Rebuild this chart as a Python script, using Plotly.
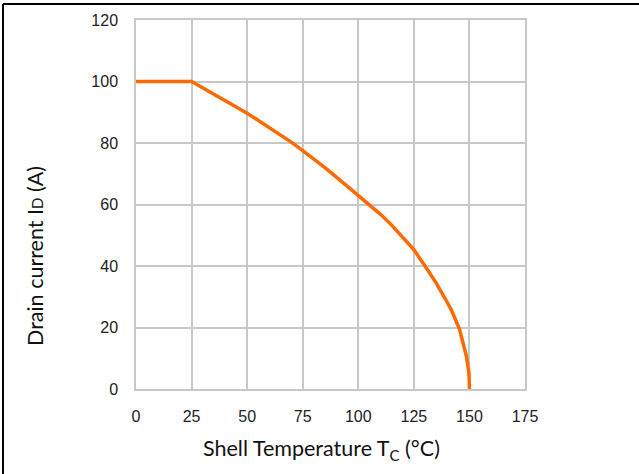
import plotly.graph_objects as go

# Derating curve: drain current vs. shell (case) temperature
temp_c = [0, 25, 50, 60, 70, 75, 85, 95, 100, 105, 110, 115, 120, 125, 130,
          135, 139, 142, 145.5, 147.5, 148.7, 149.8, 150]
drain_a = [100, 100, 89.7, 85, 80.2, 77.5, 72, 66, 63, 60, 56.8, 53.3, 49.5, 45.3, 40,
           34.5, 29.5, 25.5, 19.5, 14.5, 10.5, 5, 0]

x_ticks = [0, 25, 50, 75, 100, 125, 150, 175]
y_ticks = [0, 20, 40, 60, 80, 100, 120]

W, H = 639, 474
L, R, T, B = 136, 114, 20, 85
pw, ph = W - L - R, H - T - B


def px(x):
    return (x - L) / pw


def py(y):
    return (H - B - y) / ph


fig = go.Figure()
fig.add_trace(go.Scatter(
    x=temp_c, y=drain_a, mode="lines",
    line=dict(color="#FF6A00", width=3.5),
    hoverinfo="skip", showlegend=False,
))

grid = "#C8C8C8"
tick_font = dict(family="Arial", size=16, color="#222222")
title_font = dict(family="Lato", size=21.5, color="#111111")

fig.update_xaxes(
    range=[0, 175], tickvals=x_ticks, showgrid=True, gridcolor=grid, gridwidth=1.5,
    zeroline=False, showline=True, linecolor=grid, linewidth=1.5, mirror=True,
    ticks="", tickfont=tick_font, ticklabelstandoff=12,
)
fig.update_yaxes(
    range=[0, 120], tickvals=y_ticks, showgrid=True, gridcolor=grid, gridwidth=1.5,
    zeroline=False, showline=True, linecolor=grid, linewidth=1.5, mirror=True,
    ticks="", tickfont=tick_font, ticklabelstandoff=13,
)

fig.add_annotation(
    x=px(321), y=py(450), xref="paper", yref="paper", showarrow=False,
    text="Shell Temperature T<sub>C</sub> (°C)", font=title_font,
    xanchor="center", yanchor="middle",
)
fig.add_annotation(
    x=px(35), y=py(256), xref="paper", yref="paper", showarrow=False,
    text="Drain current I<span style='font-size:15px'>D</span> (A)", font=title_font,
    textangle=-90, xanchor="center", yanchor="middle",
)

# Frame lines along the top and left edges
fig.add_shape(type="line", xref="paper", yref="paper",
              x0=px(3), x1=px(W + 5), y0=py(4), y1=py(4),
              line=dict(color="black", width=2))
fig.add_shape(type="line", xref="paper", yref="paper",
              x0=px(3), x1=px(3), y0=py(4), y1=py(H + 5),
              line=dict(color="black", width=2))

fig.update_layout(
    width=W, height=H, margin=dict(l=L, r=R, t=T, b=B),
    paper_bgcolor="white", plot_bgcolor="white",
)

fig.write_html("out.html")
